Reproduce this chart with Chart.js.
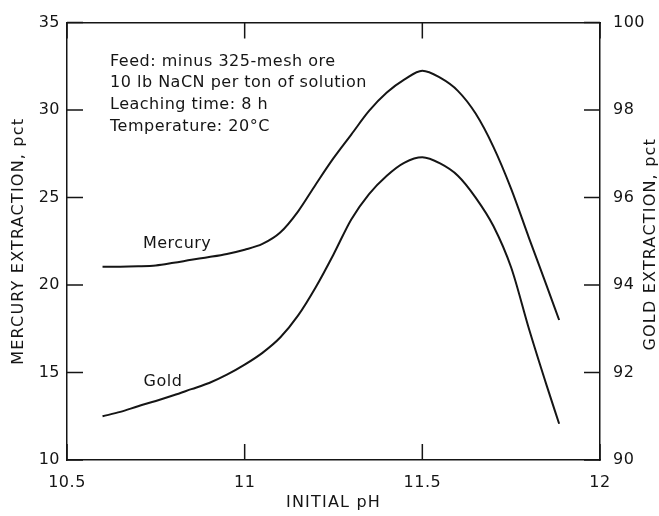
<!DOCTYPE html>
<html>
<head>
<meta charset="utf-8">
<script src="https://cdn.jsdelivr.net/npm/chart.js@4.4.1/dist/chart.umd.min.js"></script>
<style>
  html, body { margin: 0; padding: 0; background: #fff; }
  #wrap { width: 659px; height: 516px; }
</style>
</head>
<body>
<div id="wrap"><canvas id="c" width="659" height="516"></canvas></div>
<script>
// ---- data ----
const phMercury = [10.60, 10.65, 10.70, 10.75, 10.80, 10.85, 10.90, 10.95, 11.00, 11.05, 11.10, 11.15, 11.20, 11.25, 11.30, 11.35, 11.40, 11.45, 11.50, 11.55, 11.60, 11.65, 11.70, 11.75, 11.80, 11.85, 11.885];
const mercury   = [21.05, 21.05, 21.07, 21.12, 21.27, 21.44, 21.60, 21.78, 22.02, 22.35, 23.00, 24.20, 25.75, 27.25, 28.60, 29.95, 31.00, 31.75, 32.25, 31.85, 31.10, 29.80, 27.90, 25.50, 22.70, 19.95, 18.00];

const phGold = [10.60, 10.65, 10.70, 10.75, 10.80, 10.85, 10.90, 10.95, 11.00, 11.05, 11.10, 11.15, 11.20, 11.25, 11.30, 11.35, 11.40, 11.45, 11.50, 11.55, 11.60, 11.65, 11.70, 11.75, 11.80, 11.85, 11.885];
const gold   = [91.00, 91.10, 91.23, 91.35, 91.48, 91.62, 91.76, 91.95, 92.18, 92.45, 92.80, 93.30, 93.95, 94.70, 95.50, 96.08, 96.50, 96.80, 96.92, 96.78, 96.50, 96.00, 95.35, 94.40, 93.00, 91.70, 90.83];

const xTicks = [10.5, 11, 11.5, 12];
const xTickLabels = ['10.5', '11', '11.5', '12'];
const yLeftTicks = [10, 15, 20, 25, 30, 35];
const yRightTicks = [90, 92, 94, 96, 98, 100];

const notes = ['Feed: minus 325-mesh ore', '10 lb NaCN per ton of solution', 'Leaching time: 8 h', 'Temperature: 20°C'];
const seriesLabels = ['Mercury', 'Gold'];
const xTitle = 'INITIAL pH';
const yLeftTitle = 'MERCURY EXTRACTION, pct';
const yRightTitle = 'GOLD EXTRACTION, pct';

// ---- styles ----
const INK = '#151515';
const FONT = 'DejaVu Sans';
const tickFont = { family: FONT, size: 16 };

const toXY = (xs, ys) => xs.map((x, i) => ({ x: x, y: ys[i] }));
const fixedTicks = (arr) => (scale) => { scale.ticks = arr.map(v => ({ value: v })); };

const decorations = {
  id: 'decorations',
  beforeDraw(chart) {
    chart.ctx.letterSpacing = '0.5px';
  },
  afterDatasetsDraw(chart) {
    const { ctx, chartArea: a, scales } = chart;
    const L = 16;
    ctx.save();
    ctx.strokeStyle = INK;
    ctx.lineWidth = 1.5;
    ctx.beginPath();
    yLeftTicks.forEach(v => { const y = scales.y.getPixelForValue(v); ctx.moveTo(a.left, y); ctx.lineTo(a.left + L, y); });
    yRightTicks.forEach(v => { const y = scales.yR.getPixelForValue(v); ctx.moveTo(a.right, y); ctx.lineTo(a.right - L, y); });
    xTicks.forEach(v => { const x = scales.x.getPixelForValue(v); ctx.moveTo(x, a.bottom); ctx.lineTo(x, a.bottom - L); ctx.moveTo(x, a.top); ctx.lineTo(x, a.top + L); });
    ctx.stroke();
    ctx.restore();
  },
  afterDraw(chart) {
    const { ctx, chartArea: a, scales } = chart;
    const midY = (a.top + a.bottom) / 2;
    ctx.save();
    ctx.fillStyle = INK;
    ctx.font = '16px "' + FONT + '"';
    ctx.textBaseline = 'middle';
    // notes block
    ctx.letterSpacing = '0.5px';
    ctx.textAlign = 'left';
    notes.forEach((t, i) => ctx.fillText(t, a.left + 43, a.top + 39 + i * 21.7));
    // series labels placed in data space
    ctx.textAlign = 'center';
    ctx.fillText(seriesLabels[0], scales.x.getPixelForValue(10.81), scales.y.getPixelForValue(22.35));
    ctx.fillText(seriesLabels[1], scales.x.getPixelForValue(10.77), scales.y.getPixelForValue(14.45));
    // axis titles
    ctx.letterSpacing = '1.2px';
    ctx.fillText(xTitle, (a.left + a.right) / 2, scales.x.bottom - 13);
    ctx.save();
    ctx.translate(scales.y.left + 19, midY);
    ctx.rotate(-Math.PI / 2);
    ctx.fillText(yLeftTitle, 0, 0);
    ctx.restore();
    ctx.save();
    ctx.translate(scales.yR.right - 8, midY + 3);
    ctx.rotate(-Math.PI / 2);
    ctx.fillText(yRightTitle, 0, 0);
    ctx.restore();
    ctx.restore();
  }
};

new Chart(document.getElementById('c'), {
  type: 'line',
  data: {
    datasets: [
      { label: seriesLabels[0], data: toXY(phMercury, mercury), yAxisID: 'y', xAxisID: 'x',
        borderColor: INK, borderWidth: 2, pointRadius: 0, fill: false, cubicInterpolationMode: 'monotone' },
      { label: seriesLabels[1], data: toXY(phGold, gold), yAxisID: 'yR', xAxisID: 'x',
        borderColor: INK, borderWidth: 2, pointRadius: 0, fill: false, cubicInterpolationMode: 'monotone' }
    ]
  },
  options: {
    responsive: false,
    devicePixelRatio: 1,
    animation: false,
    layout: { padding: 0 },
    plugins: { legend: { display: false }, tooltip: { enabled: false } },
    scales: {
      x: {
        type: 'linear', position: 'bottom', min: 10.5, max: 12,
        afterBuildTicks: fixedTicks(xTicks),
        afterFit: s => { s.height = 56; },
        grid: { display: false, drawTicks: false },
        border: { display: true, color: INK, width: 1.5 },
        ticks: { color: INK, font: tickFont, padding: 13, maxRotation: 0,
                 callback: (v) => xTickLabels[xTicks.indexOf(v)] }
      },
      x2: {
        type: 'linear', position: 'top', min: 10.5, max: 12,
        afterBuildTicks: fixedTicks(xTicks),
        afterFit: s => { s.height = 19; },
        grid: { display: false, drawTicks: false },
        border: { display: true, color: INK, width: 1.5 },
        ticks: { display: false }
      },
      y: {
        type: 'linear', position: 'left', min: 10, max: 35,
        afterBuildTicks: fixedTicks(yLeftTicks),
        afterFit: s => { s.width = 67; },
        grid: { display: false, drawTicks: false },
        border: { display: true, color: INK, width: 1.5 },
        ticks: { color: INK, font: tickFont, padding: 7 }
      },
      yR: {
        type: 'linear', position: 'right', min: 90, max: 100,
        afterBuildTicks: fixedTicks(yRightTicks),
        afterFit: s => { s.width = 59; },
        grid: { display: false, drawTicks: false },
        border: { display: true, color: INK, width: 1.5 },
        ticks: { color: INK, font: tickFont, padding: 13 }
      }
    }
  },
  plugins: [decorations]
});
</script>
</body>
</html>
